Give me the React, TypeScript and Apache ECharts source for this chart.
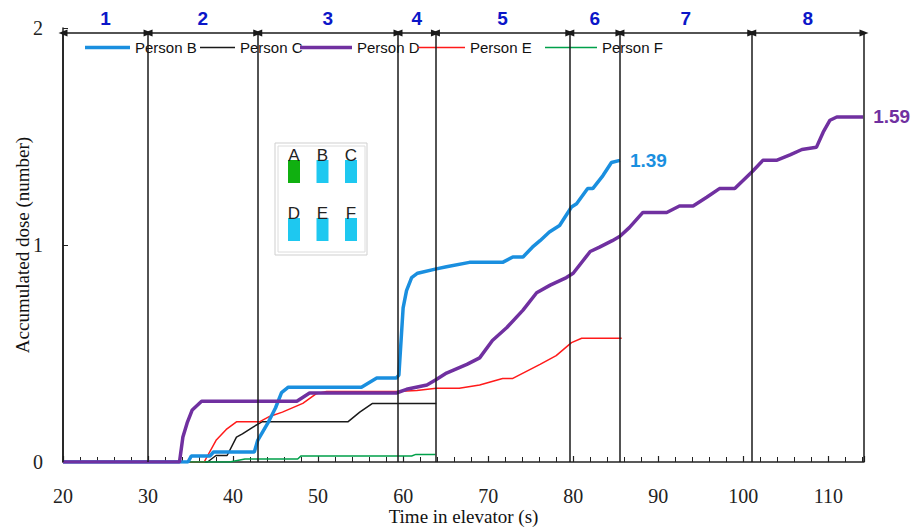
import React, { useEffect, useRef } from "react";
import * as echarts from "echarts";

// Accumulated dose per person: [time (s), dose]
const personB: [number, number][] = [
  [20, 0], [34.7, 0], [35.1, 0.028], [37.3, 0.028], [37.7, 0.046], [42.5, 0.046],
  [42.9, 0.1], [44.1, 0.18], [45.0, 0.25], [45.7, 0.32], [46.5, 0.345], [55.1, 0.345],
  [56.9, 0.387], [59.2, 0.387], [59.5, 0.4], [60.0, 0.71], [60.4, 0.79], [61.0, 0.85],
  [61.7, 0.87], [63.9, 0.89], [65.1, 0.9], [67.8, 0.92], [71.7, 0.92], [72.9, 0.945],
  [74.1, 0.945], [75.2, 0.99], [76.1, 1.02], [77.2, 1.06], [78.4, 1.09], [79.8, 1.175],
  [80.4, 1.19], [81.7, 1.26], [82.3, 1.26], [83.5, 1.32], [84.5, 1.38], [85.5, 1.39],
];
const personC: [number, number][] = [
  [20, 0], [37.0, 0], [38.0, 0.03], [39.3, 0.03], [40.4, 0.115], [41.1, 0.13],
  [42.3, 0.16], [43.4, 0.185], [53.5, 0.185], [54.9, 0.23], [56.4, 0.27], [63.9, 0.27],
];
const personD: [number, number][] = [
  [20, 0], [33.7, 0], [34.1, 0.115], [34.6, 0.18], [35.2, 0.24], [36.3, 0.28],
  [47.5, 0.28], [49.0, 0.318], [59.2, 0.318], [60.4, 0.335], [62.8, 0.355], [63.9, 0.38],
  [65.1, 0.41], [67.5, 0.45], [69.0, 0.48], [70.5, 0.56], [72.2, 0.62], [74.1, 0.7],
  [75.7, 0.78], [77.3, 0.815], [79.2, 0.85], [80.0, 0.87], [82.0, 0.97], [83.1, 0.99],
  [84.6, 1.02], [85.5, 1.04], [86.6, 1.08], [88.2, 1.15], [91.0, 1.15], [92.5, 1.18],
  [94.1, 1.18], [95.7, 1.22], [97.2, 1.26], [99.0, 1.26], [101.1, 1.34], [102.3, 1.39],
  [103.9, 1.39], [105.5, 1.415], [106.9, 1.44], [108.6, 1.45], [109.4, 1.52], [110.2, 1.575],
  [111.0, 1.59], [114.1, 1.59],
];
const personE: [number, number][] = [
  [20, 0], [36.6, 0], [38.0, 0.1], [39.2, 0.15], [40.4, 0.185], [43.1, 0.185],
  [44.3, 0.21], [45.8, 0.23], [48.2, 0.27], [49.8, 0.315], [51.0, 0.325], [59.2, 0.325],
  [61.6, 0.33], [63.9, 0.34], [66.6, 0.34], [69.0, 0.355], [71.7, 0.385], [72.9, 0.385],
  [76.1, 0.45], [78.0, 0.49], [79.8, 0.55], [81.0, 0.57], [85.7, 0.57],
];
const personF: [number, number][] = [
  [20, 0], [39.6, 0], [40.2, 0.005], [41.4, 0.014], [47.6, 0.014], [48.0, 0.028],
  [61.0, 0.028], [61.5, 0.035], [63.8, 0.035],
];

// Stage boundaries (s) and stage labels
const stageBounds = [20, 30, 42.9, 59.4, 63.8, 79.6, 85.5, 101.0, 114.2];
const stageLabels = ["1", "2", "3", "4", "5", "6", "7", "8"];
const arrowLevel = 1.977;

const seriesNames = ["Person B", "Person C", "Person D", "Person E", "Person F"];
const seriesColors = ["#1a8fdf", "#1a1a1a", "#7030a0", "#ff1a1a", "#00a04a"];
const seriesWidths = [3.5, 1.5, 3.5, 1.5, 1.5];
const seriesData = [personB, personC, personD, personE, personF];
const endLabelled = [true, false, true, false, false];

// Legend layout (line sample start and length per entry)
const legendLeft = [85, 200, 300, 418, 545];
const legendLineLen = [45, 35, 52, 47, 52];

// Inset seat map
const insetLetters = ["A", "B", "C", "D", "E", "F"];
const insetColors = ["#10b010", "#1ec8f0", "#1ec8f0", "#1ec8f0", "#1ec8f0", "#1ec8f0"];

export default function App() {
  const ref = useRef<HTMLDivElement>(null);
  useEffect(() => {
    if (!ref.current) return;
    const chart = echarts.init(ref.current, undefined, { renderer: "svg" });

    const lineSeries = seriesNames.map((name, i) => ({
      name,
      type: "line",
      data: seriesData[i],
      showSymbol: false,
      symbol: "none",
      z: i === 0 || i === 2 ? 4 : 3,
      lineStyle: { color: seriesColors[i], width: seriesWidths[i] },
      itemStyle: { color: seriesColors[i] },
      endLabel: endLabelled[i]
        ? {
            show: true,
            formatter: (p: any) => Number(p.value[1]).toFixed(2),
            color: seriesColors[i],
            fontWeight: "bold",
            fontSize: 19,
            fontFamily: "Liberation Sans, Arial, sans-serif",
            distance: 10,
          }
        : { show: false },
    }));

    const legends = seriesNames.map((name, i) => {
      const w = legendLineLen[i];
      const h = seriesWidths[i];
      return {
        data: [{ name, icon: `path://M0 0H${w}V${h}H0Z` }],
        left: legendLeft[i],
        top: 40,
        padding: 0,
        itemWidth: w,
        itemHeight: 14,
        itemGap: 0,
        textStyle: { fontSize: 15, color: "#111", fontFamily: "Liberation Sans, Arial, sans-serif" },
      };
    });

    const vLines = stageBounds.map((b) => [
      { coord: [b, 0] },
      { coord: [b, arrowLevel] },
    ]);
    const hArrows = stageLabels.map((lab, i) => [
      { coord: [stageBounds[i], arrowLevel], name: lab },
      { coord: [stageBounds[i + 1], arrowLevel] },
    ]);

    const insetGraphics: any[] = [
      { type: "rect", shape: { x: 275, y: 143, width: 92, height: 112 }, style: { fill: "#fff", stroke: "#cfcfcf", lineWidth: 1 }, z: 10 },
      { type: "rect", shape: { x: 278, y: 146, width: 87, height: 106 }, style: { fill: "none", stroke: "#dcdcdc", lineWidth: 1 }, z: 10 },
    ];
    insetLetters.forEach((l, i) => {
      const col = i % 3;
      const row = Math.floor(i / 3);
      const x0 = 288 + col * 28.5;
      const yRect = row === 0 ? 160 : 218;
      insetGraphics.push({
        type: "rect",
        shape: { x: x0, y: yRect, width: 12, height: 23 },
        style: { fill: insetColors[i] },
        z: 11,
      });
      insetGraphics.push({
        type: "text",
        x: x0 + 6,
        y: yRect - 5,
        style: { text: l, fill: "#222", font: "17px 'Liberation Sans', Arial, sans-serif", align: "center", verticalAlign: "middle" },
        z: 12,
      });
    });

    chart.setOption({
      animation: false,
      backgroundColor: "#fff",
      grid: { left: 63, right: 55, top: 28, bottom: 68, containLabel: false, outerBoundsMode: "none" },
      legend: legends,
      xAxis: {
        type: "value",
        min: 20,
        max: 114.2,
        interval: 10,
        name: "Time in elevator (s)",
        nameLocation: "middle",
        nameGap: 45,
        nameMoveOverlap: false,
        nameTextStyle: { fontSize: 19, color: "#111", fontFamily: "Liberation Serif, Times New Roman, serif" },
        axisLine: { lineStyle: { color: "#222", width: 1.5 } },
        axisTick: { inside: true, length: 6, lineStyle: { color: "#222", width: 1.2 } },
        minorTick: { show: true, splitNumber: 5, length: 5, lineStyle: { color: "#222", width: 1 } },
        axisLabel: {
          margin: 24,
          fontSize: 20,
          color: "#222",
          fontFamily: "Liberation Serif, Times New Roman, serif",
          showMaxLabel: false,
          formatter: (v: number) => (v % 10 === 0 ? String(v) : ""),
        },
        splitLine: { show: false },
      },
      yAxis: {
        type: "value",
        min: 0,
        max: 2,
        interval: 1,
        name: "Accumulated dose (number)",
        nameLocation: "middle",
        nameGap: 31,
        nameMoveOverlap: false,
        nameTextStyle: { fontSize: 19, color: "#111", fontFamily: "Liberation Serif, Times New Roman, serif" },
        axisLine: { show: true, lineStyle: { color: "#222", width: 1.5 } },
        axisTick: { show: true, inside: true, length: 5, lineStyle: { color: "#222" } },
        axisLabel: { margin: 20, fontSize: 20, color: "#222", fontFamily: "Liberation Serif, Times New Roman, serif" },
        splitLine: { show: false },
      },
      graphic: insetGraphics,
      series: [
        ...lineSeries,
        {
          name: "stageLines",
          type: "line",
          data: [],
          silent: true,
          markLine: {
            silent: true,
            symbol: ["none", "none"],
            label: { show: false },
            lineStyle: { color: "#1a1a1a", width: 1.5, type: "solid" },
            data: vLines,
          },
        },
        {
          name: "stageArrows",
          type: "line",
          data: [],
          silent: true,
          markLine: {
            silent: true,
            symbol: ["triangle", "triangle"],
            symbolSize: [7, 9],
            lineStyle: { color: "#1a1a1a", width: 1.5, type: "solid" },
            label: {
              show: true,
              position: "middle",
              formatter: "{b}",
              distance: 5,
              color: "#0b16c8",
              fontSize: 19,
              fontWeight: "bold",
              fontFamily: "Liberation Sans, Arial, sans-serif",
            },
            data: hArrows,
          },
        },
      ],
    });
    return () => chart.dispose();
  }, []);
  return <div ref={ref} style={{ width: 919, height: 530, position: "absolute", left: 0, top: 0 }} />;
}
